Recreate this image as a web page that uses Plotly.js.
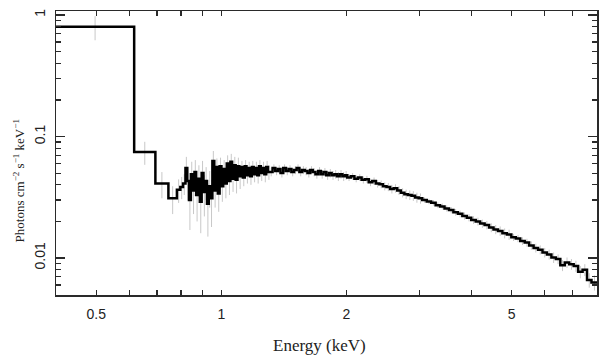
<!DOCTYPE html>
<html>
<head>
<meta charset="utf-8">
<script src="https://cdn.plot.ly/plotly-3.0.1.min.js"></script>
<style>
  html, body { margin: 0; padding: 0; background: #ffffff; }
  #chart { width: 609px; height: 357px; }
</style>
</head>
<body>
<div id="chart"></div>
<script>
// Energy bin edges (keV)
const binEdges = [
  0.400, 0.617, 0.694, 0.746, 0.782, 0.797, 0.809,
  0.820, 0.828, 0.836, 0.845, 0.853, 0.862, 0.870, 0.879, 0.888, 0.897,
  0.906, 0.915, 0.924, 0.933, 0.943, 0.952, 0.962, 0.971, 0.981, 0.991,
  1.001, 1.011, 1.021, 1.031, 1.041, 1.052, 1.062, 1.073, 1.083, 1.094,
  1.105, 1.116, 1.127, 1.139, 1.150, 1.162, 1.173, 1.185, 1.197, 1.209,
  1.221, 1.233, 1.245, 1.258, 1.270, 1.283, 1.296,
  1.309, 1.329, 1.349, 1.369, 1.389, 1.410, 1.431, 1.453, 1.475, 1.497,
  1.519, 1.542, 1.565, 1.589, 1.613, 1.637, 1.661, 1.686, 1.712, 1.737,
  1.763, 1.790, 1.817, 1.844, 1.872, 1.900, 1.928, 1.957, 1.986,
  2.011, 2.051, 2.092, 2.134, 2.177, 2.220, 2.265, 2.310, 2.356, 2.403,
  2.451, 2.500, 2.550, 2.601, 2.653, 2.706, 2.760, 2.815, 2.872, 2.929, 2.988,
  3.048, 3.124, 3.202, 3.282, 3.364, 3.448, 3.534, 3.622, 3.713, 3.806,
  3.901, 3.999, 4.099, 4.201, 4.306, 4.414, 4.524, 4.637, 4.753, 4.872,
  4.994, 5.119, 5.247, 5.378, 5.512, 5.650, 5.791, 5.936, 6.084, 6.236,
  6.392, 6.552, 6.716, 6.884, 7.056, 7.232, 7.413, 7.598, 7.788, 8.050
];

// Flux per bin (photons cm^-2 s^-1 keV^-1)
const fluxValues = [
  0.80, 0.0745, 0.041, 0.031, 0.0364, 0.0385, 0.041,
  0.055, 0.043, 0.030, 0.049, 0.036, 0.051, 0.033, 0.045, 0.029, 0.050,
  0.035, 0.043, 0.028, 0.039, 0.031, 0.063, 0.036, 0.056, 0.034, 0.057,
  0.039, 0.054, 0.041, 0.060, 0.043, 0.062, 0.045, 0.058, 0.044, 0.057,
  0.047, 0.056, 0.046, 0.057, 0.048, 0.055, 0.047, 0.056, 0.049, 0.055,
  0.048, 0.057, 0.050, 0.055, 0.049, 0.056, 0.051,
  0.051, 0.055, 0.052, 0.054, 0.050, 0.055, 0.052, 0.054, 0.051, 0.053,
  0.055, 0.051, 0.053, 0.052, 0.050, 0.053, 0.051, 0.049, 0.052, 0.049,
  0.051, 0.048, 0.050, 0.048, 0.049, 0.047, 0.049, 0.047, 0.048,
  0.046, 0.047, 0.045, 0.046, 0.044, 0.0445, 0.042, 0.043, 0.041, 0.0405,
  0.039, 0.0385, 0.037, 0.0375, 0.036, 0.0345, 0.0335, 0.033, 0.0325, 0.0315, 0.031,
  0.0300, 0.0292, 0.0285, 0.0272, 0.0266, 0.0256, 0.0248, 0.0238, 0.0231, 0.0222,
  0.0215, 0.0206, 0.0200, 0.0192, 0.0187, 0.0178, 0.0172, 0.0167, 0.0160, 0.0156,
  0.0148, 0.0145, 0.0138, 0.0134, 0.0127, 0.0121, 0.0117, 0.0111, 0.0107, 0.0101,
  0.0098, 0.0087, 0.0092, 0.0089, 0.0086, 0.0077, 0.0080, 0.0066, 0.0063
];

// 1-sigma errors per bin
const fluxErrors = [
  0.18, 0.016, 0.010, 0.008, 0.008, 0.008, 0.008,
  0.013, 0.013, 0.013, 0.013, 0.013, 0.013, 0.013, 0.013, 0.013, 0.013,
  0.013, 0.013, 0.013, 0.013, 0.013, 0.013, 0.010, 0.010, 0.010, 0.010,
  0.010, 0.010, 0.010, 0.010, 0.010, 0.010, 0.010, 0.010, 0.010, 0.010,
  0.010, 0.007, 0.007, 0.007, 0.007, 0.007, 0.007, 0.007, 0.007, 0.007,
  0.007, 0.007, 0.007, 0.007, 0.007, 0.007, 0.007,
  0.004, 0.004, 0.004, 0.004, 0.004, 0.004, 0.004, 0.004, 0.004, 0.004,
  0.004, 0.004, 0.004, 0.004, 0.004, 0.004, 0.004, 0.004, 0.004, 0.004,
  0.004, 0.004, 0.004, 0.004, 0.004, 0.004, 0.004, 0.004, 0.004,
  0.003, 0.003, 0.003, 0.003, 0.003, 0.003, 0.003, 0.003, 0.003, 0.003,
  0.003, 0.003, 0.003, 0.003, 0.003, 0.003, 0.003, 0.003, 0.003, 0.003, 0.003,
  0.0015, 0.0015, 0.0015, 0.0015, 0.0015, 0.0015, 0.0015, 0.0015, 0.0015, 0.0015,
  0.0015, 0.0015, 0.0015, 0.0015, 0.0015, 0.0015, 0.0015, 0.0015, 0.0015, 0.0015,
  0.001, 0.001, 0.001, 0.001, 0.001, 0.001, 0.001, 0.001, 0.001, 0.001,
  0.0009, 0.0009, 0.0009, 0.0009, 0.0009, 0.0009, 0.0009, 0.0009, 0.0009
];

const xTickVals = [0.5, 1, 2, 5];
const xTickText = ["0.5", "1", "2", "5"];
const xMinorVals = [0.6, 0.7, 0.8, 0.9, 3, 4, 6, 7];
const yTickVals = [0.01, 0.1, 1];
const yTickText = ["0.01", "0.1", "1"];
const yMinorVals = [0.006, 0.007, 0.008, 0.009, 0.02, 0.03, 0.04, 0.05, 0.06, 0.07, 0.08, 0.09,
                    0.2, 0.3, 0.4, 0.5, 0.6, 0.7, 0.8, 0.9];
const xTitle = 'Energy (keV)';
const yTitle = 'Photons cm<sup>−2</sup> s<sup>−1</sup> keV<sup>−1</sup>';

const n = Math.min(fluxValues.length, binEdges.length - 1, fluxErrors.length);
const stepX = binEdges.slice(0, n + 1);
const stepY = fluxValues.slice(0, n).concat([fluxValues[n - 1]]);
const centers = [];
for (let i = 0; i < n; i++) centers.push(Math.sqrt(binEdges[i] * binEdges[i + 1]));

const axisColor = '#2a2a2a';
const tickFont = { family: 'Liberation Sans, Arial, sans-serif', size: 14, color: '#222' };
const titleFontFamily = 'Liberation Serif, Times New Roman, serif';

const traces = [
  {
    x: centers, y: fluxValues.slice(0, n), type: 'scatter', mode: 'markers',
    marker: { size: 1, color: 'rgba(0,0,0,0)' },
    error_y: { type: 'data', array: fluxErrors.slice(0, n), visible: true, color: '#c8c8c8', thickness: 1, width: 0 },
    hoverinfo: 'skip', showlegend: false
  },
  {
    x: stepX, y: stepY, type: 'scatter', mode: 'lines',
    line: { shape: 'hv', color: '#000000', width: 2.5 },
    showlegend: false
  }
];

const xRange = [Math.log10(0.4), Math.log10(8.03)];
const layout = {
  width: 609, height: 357,
  margin: { l: 56, r: 12, t: 11, b: 62 },
  paper_bgcolor: '#ffffff', plot_bgcolor: '#ffffff',
  showlegend: false,
  xaxis: {
    type: 'log', range: xRange,
    tickmode: 'array', tickvals: xTickVals, ticktext: xTickText,
    ticks: 'inside', ticklen: 5, tickwidth: 1.2, tickcolor: axisColor,
    minor: { tickmode: 'array', tickvals: xMinorVals, ticks: 'inside', ticklen: 5, tickwidth: 1.2, tickcolor: axisColor, showgrid: false },
    showline: true, linecolor: axisColor, linewidth: 1.5, mirror: 'ticks',
    showgrid: false, zeroline: false,
    tickfont: tickFont, ticklabelstandoff: 6
  },
  xaxis2: {
    type: 'log', range: xRange, overlaying: 'x', side: 'bottom',
    tickmode: 'array', tickvals: [1], showticklabels: false,
    ticks: 'inside', ticklen: 9, tickwidth: 1.2, tickcolor: axisColor,
    showline: false, mirror: 'ticks', showgrid: false, zeroline: false
  },
  yaxis: {
    type: 'log', range: [Math.log10(0.00496), Math.log10(1.08)],
    tickmode: 'array', tickvals: yTickVals, ticktext: yTickText,
    ticks: 'inside', ticklen: 9, tickwidth: 1.2, tickcolor: axisColor,
    minor: { tickmode: 'array', tickvals: yMinorVals, ticks: 'inside', ticklen: 5, tickwidth: 1.2, tickcolor: axisColor, showgrid: false },
    showline: true, linecolor: axisColor, linewidth: 1.5, mirror: 'ticks',
    showgrid: false, zeroline: false,
    tickfont: tickFont, tickangle: -90, ticklabelstandoff: 4
  },
  annotations: [
    {
      text: xTitle, xref: 'paper', yref: 'paper', x: 0.487, y: 0, yshift: -50,
      xanchor: 'center', yanchor: 'middle', showarrow: false,
      font: { family: titleFontFamily, size: 17, color: '#222' }
    },
    {
      text: yTitle, xref: 'paper', yref: 'paper', x: 0, xshift: -37, y: 0.40,
      xanchor: 'center', yanchor: 'middle', showarrow: false, textangle: -90,
      font: { family: titleFontFamily, size: 13, color: '#222' }
    }
  ]
};

Plotly.newPlot('chart', traces, layout, { staticPlot: true, displayModeBar: false });
</script>
</body>
</html>
